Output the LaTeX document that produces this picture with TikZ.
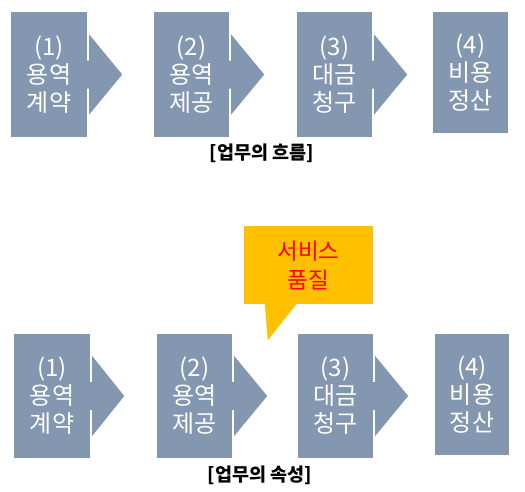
\documentclass[tikz,border=0pt]{standalone}
\usepackage{fontspec}
\setmainfont{Noto Sans CJK KR}
\definecolor{slate}{HTML}{8497B0}
\definecolor{amber}{HTML}{FFC000}

\begin{document}
\begin{tikzpicture}[x=1pt,y=1pt,
  stage/.style={rectangle,fill=slate,text=white,inner sep=0pt,
    minimum width=75pt,minimum height=125pt,align=center,
    font=\fontsize{24}{28}\selectfont},
  head/.style={fill=slate},
  callout/.style={rectangle,fill=amber,text=red,inner sep=0pt,
    minimum width=129pt,minimum height=78pt,align=center,
    font=\fontsize{22.5}{29}\selectfont},
  caption/.style={font=\fontsize{18.5}{20}\selectfont\bfseries}]

\useasboundingbox (0,0) rectangle (525,-491);

% upper row
\node[stage,minimum width=76pt] (f1) at (49,-74.5) {(1)\\용역\\계약};
\node[stage] (f2) at (191.5,-74.5) {(2)\\용역\\제공};
\node[stage] (f3) at (334.5,-74.5) {(3)\\대금\\청구};
\node[stage,minimum height=121pt] (f4) at (470.5,-72.5) {(4)\\비용\\정산};
\node[caption] (fcap) at (262,-153) {[업무의 흐름]};

\fill[head] ([xshift=-0.5pt,yshift=14pt]f1.east) -- ++(2.5,0) -- ++(0,26) -- ++(33,-40) -- ++(-33,-40) -- ++(0,26) -- ++(-2.5,0) -- cycle;
\fill[head] ([xshift=-0.5pt,yshift=14pt]f2.east) -- ++(2.5,0) -- ++(0,26) -- ++(33,-40) -- ++(-33,-40) -- ++(0,26) -- ++(-2.5,0) -- cycle;
\fill[head] ([xshift=-0.5pt,yshift=14pt]f3.east) -- ++(2.5,0) -- ++(0,26) -- ++(33,-40) -- ++(-33,-40) -- ++(0,26) -- ++(-2.5,0) -- cycle;

% lower row
\node[stage,minimum width=76pt,minimum height=124pt] (a1) at (52,-396) {(1)\\용역\\계약};
\node[stage,minimum height=124pt] (a2) at (194.5,-396) {(2)\\용역\\제공};
\node[stage,minimum height=124pt] (a3) at (335.5,-396) {(3)\\대금\\청구};
\node[stage,minimum width=74pt,minimum height=121pt] (a4) at (472,-394.5) {(4)\\비용\\정산};
\node[caption] (acap) at (260,-475) {[업무의 속성]};

\fill[head] ([xshift=-0.5pt,yshift=14pt]a1.east) -- ++(2.5,0) -- ++(0,26) -- ++(32,-40) -- ++(-32,-40) -- ++(0,26) -- ++(-2.5,0) -- cycle;
\fill[head] ([xshift=-0.5pt,yshift=14pt]a2.east) -- ++(2.5,0) -- ++(0,26) -- ++(33,-40) -- ++(-33,-40) -- ++(0,26) -- ++(-2.5,0) -- cycle;
\fill[head] ([xshift=-0.5pt,yshift=14pt]a3.east) -- ++(2.5,0) -- ++(0,26) -- ++(33,-40) -- ++(-33,-40) -- ++(0,26) -- ++(-2.5,0) -- cycle;

% callout
\node[callout] (q) at (308.5,-265) {서비스\\품질};
\fill[amber] ([xshift=21pt,yshift=0.5pt]q.south west) -- ([xshift=24pt,yshift=-36pt]q.south west)
  -- ([xshift=53pt,yshift=0.5pt]q.south west) -- cycle;

\end{tikzpicture}
\end{document}
